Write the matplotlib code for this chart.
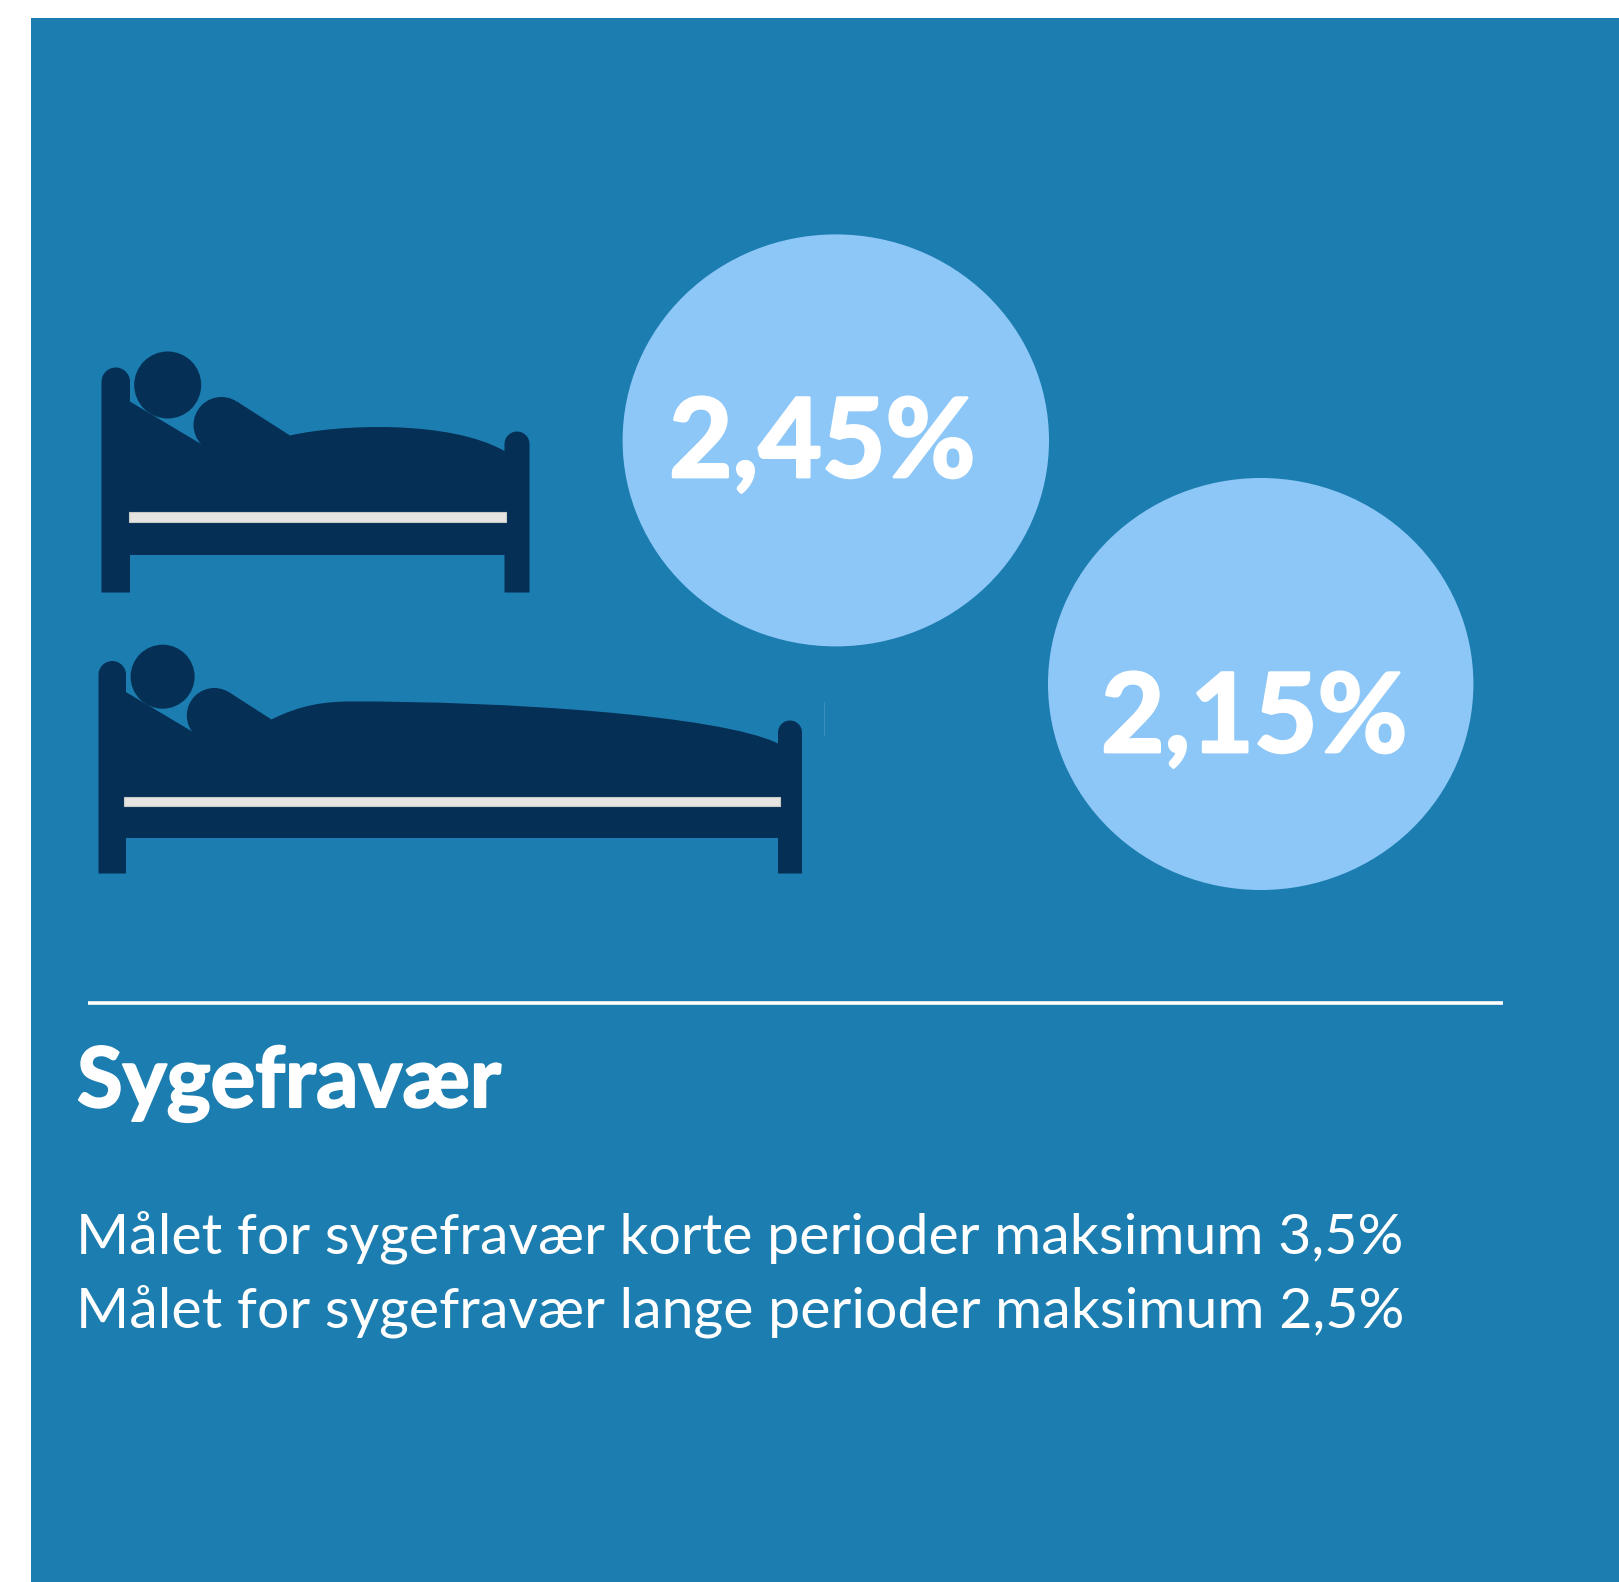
import matplotlib
matplotlib.use("Agg")
import matplotlib.pyplot as plt
import matplotlib.patheffects as pe
from matplotlib.patches import Rectangle, Ellipse, PathPatch, Circle
from matplotlib.path import Path

W, H = 1619, 1582
BG = "#1c7db0"
NAVY = "#052f55"
BUBBLE = "#8dc7f7"
BAR = "#e6e5e1"

values = ["2,45%", "2,15%"]
title = "Sygefravær"
goal_lines = ["Målet for sygefravær korte perioder maksimum 3,5%",
              "Målet for sygefravær lange perioder maksimum 2,5%"]

fig = plt.figure(figsize=(W / 100, H / 100), dpi=100, facecolor="white")
ax = fig.add_axes([0, 0, 1, 1])
ax.set_xlim(0, W)
ax.set_ylim(H, 0)
ax.axis("off")

ax.add_patch(Rectangle((31, 18), W - 31, H - 18, fc=BG, ec="none"))


def post(x0, x1, top, bottom):
    r = (x1 - x0) / 2
    k = 0.55 * r
    verts = [(x0, bottom), (x0, top + r), (x0, top + r - k), (x0 + r - k, top), (x0 + r, top),
             (x0 + r + k, top), (x1, top + r - k), (x1, top + r), (x1, bottom), (x0, bottom)]
    codes = [Path.MOVETO, Path.LINETO, Path.CURVE4, Path.CURVE4, Path.CURVE4,
             Path.CURVE4, Path.CURVE4, Path.CURVE4, Path.LINETO, Path.CLOSEPOLY]
    ax.add_patch(PathPatch(Path(verts, codes), fc=NAVY, ec="none"))


def bed(lp, rp, rail_bottom, bar, head, arm, body):
    post(*lp)
    post(*rp)
    ax.add_patch(PathPatch(Path(body[0], body[1]), fc=NAVY, ec="none"))
    ax.add_patch(Rectangle((lp[1] - 1, body[2]), rp[0] - lp[1] + 2, rail_bottom - body[2], fc=NAVY, ec="none"))
    ax.add_patch(Circle(arm[:2], arm[2], fc=NAVY, ec="none"))
    ax.add_patch(Circle(head[:2], head[2], fc=NAVY, ec="none"))
    ax.add_patch(Rectangle((bar[0], bar[2]), bar[1] - bar[0], bar[3] - bar[2], fc=BAR, ec="#c9c9c6", lw=0.8))


L, C, M = Path.LINETO, Path.CURVE4, Path.MOVETO
# upper bed
body1_v = [(129, 401), (201, 444), (221, 444), (237, 401.6), (290, 435.5),
           (340, 424), (450, 420), (504.5, 451), (507, 451), (507, 540), (129, 540), (129, 401)]
body1_c = [M, L, L, L, L, C, C, C, L, L, L, Path.CLOSEPOLY]
bed((101.5, 130, 367.5, 592.5), (504.5, 529.5, 431.5, 592.5), 555,
    (128.5, 506, 511.5, 521.5), (167.7, 385, 33.5), (221.5, 425, 28),
    (body1_v, body1_c, 530))
# lower bed
body2_v = [(125, 691.5), (195.5, 733.5), (215, 733.5), (228.7, 692), (271.5, 719.5),
           (300, 705), (325, 701.5), (350, 701.5),
           (500, 701), (720, 715), (778, 743.5), (780, 743.5), (780, 820), (125, 820), (125, 691.5)]
body2_c = [M, L, L, L, L, C, C, C, C, C, C, L, L, L, Path.CLOSEPOLY]
bed((98.5, 126, 661, 873.5), (778, 802, 720.5, 873.5), 837.5,
    (124, 780, 796.5, 805.5), (162.6, 676.7, 32), (214.3, 715.5, 27.5),
    (body2_v, body2_c, 810))
ax.plot([824, 824], [702, 735], color="#3f92c0", lw=0.6)

ax.add_patch(Ellipse((835.8, 440.4), 426.4, 412, fc=BUBBLE, ec="none"))
ax.add_patch(Ellipse((1260.7, 684), 425.4, 412, fc=BUBBLE, ec="none"))

heavy = [pe.withStroke(linewidth=2.0, foreground="white")]
ax.text(669, 477, values[0], family="Lato", weight="bold", color="white", fontsize=79,
        va="baseline", ha="left", path_effects=heavy)
ax.text(1101, 752, values[1], family="Lato", weight="bold", color="white", fontsize=79,
        va="baseline", ha="left", path_effects=heavy)

ax.plot([88, 1503], [1002.7, 1002.7], color="white", lw=2.6, solid_capstyle="butt")

ax.text(77, 1107, title, family="Lato", weight="bold", color="white", fontsize=60,
        va="baseline", ha="left", path_effects=[pe.withStroke(linewidth=1.5, foreground="white")])
ax.text(76, 1254, goal_lines[0], family="Lato", color="white", fontsize=41.2, va="baseline", ha="left")
ax.text(76, 1328, goal_lines[1], family="Lato", color="white", fontsize=41.2, va="baseline", ha="left")

fig.savefig("out.png", dpi=100, facecolor="white")
